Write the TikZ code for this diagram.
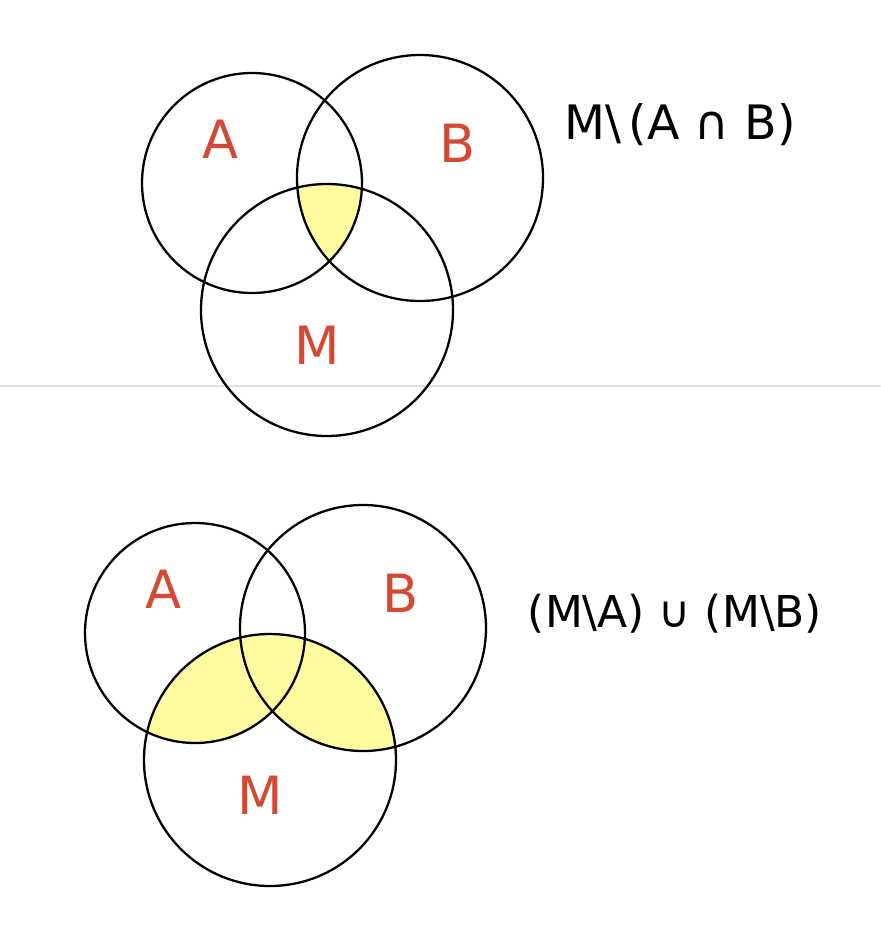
\documentclass[tikz,border=0pt]{standalone}
\usepackage{fontspec}
\setmainfont{DejaVu Sans}
\definecolor{setred}{RGB}{212,72,52}
\definecolor{hilite}{RGB}{255,251,160}
\definecolor{rulegray}{RGB}{222,223,228}
\begin{document}
\begin{tikzpicture}[x=0.02cm,y=-0.02cm,line cap=round,line join=round,
  setline/.style={line width=1.3pt},
  setlabel/.style={text=setred,font=\fontsize{30}{34}\selectfont},
  formula/.style={font=\fontsize{27}{32}\selectfont}]

\useasboundingbox[fill=white] (0,0) rectangle (880,951);

% separator between the two pictures
\draw[rulegray,line width=1pt] (0,386) -- (880,386);

% upper picture: centres
\coordinate (A1) at (252,183);
\coordinate (B1) at (420,178);
\coordinate (M1) at (327,310);

% shaded part: A and B and M
\begin{scope}
  \clip (A1) circle (110);
  \clip (B1) circle (123);
  \fill[hilite] (M1) circle (126);
\end{scope}

\draw[setline] (A1) circle (110);
\draw[setline] (B1) circle (123);
\draw[setline] (M1) circle (126);

\node[setlabel] (lA1) at (221,139) {A};
\node[setlabel] (lB1) at (458,143) {B};
\node[setlabel] (lM1) at (317,345) {M};
\node[formula] (f1) at (680,125) {M\textbackslash\,(A ∩ B)};

% lower picture: same circles, moved
\coordinate (A2) at (195,633);
\coordinate (B2) at (363,628);
\coordinate (M2) at (270,760);

% shaded part: M inside A or B
\begin{scope}
  \clip (M2) circle (126);
  \fill[hilite] (A2) circle (110);
  \fill[hilite] (B2) circle (123);
\end{scope}

\draw[setline] (A2) circle (110);
\draw[setline] (B2) circle (123);
\draw[setline] (M2) circle (126);

\node[setlabel] (lA2) at (164,589) {A};
\node[setlabel] (lB2) at (401,593) {B};
\node[setlabel] (lM2) at (260,795) {M};
\node[formula,font=\fontsize{25}{30}\selectfont] (f2) at (675,614) {(M\textbackslash A)\ ∪\ (M\textbackslash B)};

\end{tikzpicture}
\end{document}
